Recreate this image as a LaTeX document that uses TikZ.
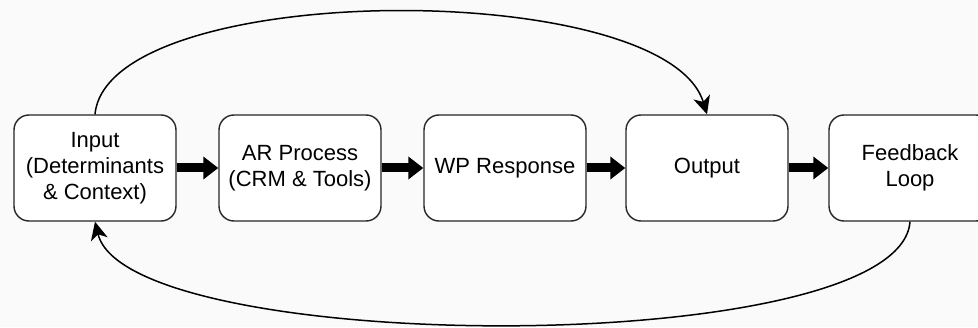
\documentclass[tikz,border=0pt]{standalone}
\usepackage{fontspec}
\setmainfont{Liberation Sans}
\usetikzlibrary{arrows.meta}
\definecolor{bgcol}{HTML}{FAFAFA}
\tikzset{
  stagebox/.style={draw=black!85, line width=1.4pt, rounded corners=15pt, fill=white,
    minimum width=162pt, minimum height=106pt, align=center, inner sep=0pt,
    font=\fontsize{22pt}{26pt}\selectfont},
  flowarrow/.style={line width=9pt, -{Triangle[length=15pt,width=22pt]}},
  looparrow/.style={line width=1.5pt, -{Stealth[length=18pt,width=17pt,inset=5pt]}}
}
\begin{document}
\begin{tikzpicture}[x=1pt,y=1pt]
  \fill[bgcol] (0,0) rectangle (978,327);
  \useasboundingbox (0,0) rectangle (978,327);
  \begin{scope}
    \clip (0,0) rectangle (978,327);
    \node[stagebox] (in)  at (95,159)  {Input\\(Determinants\\\& Context)};
    \node[stagebox] (ar)  at (300,159) {AR Process\\(CRM \& Tools)};
    \node[stagebox] (wp)  at (505,159) {WP Response};
    \node[stagebox] (out) at (707,159) {Output};
    \node[stagebox] (fb)  at (910,159) {Feedback\\Loop};
  \end{scope}
  % main chain
  \draw[flowarrow] (in.east)  -- (ar.west);
  \draw[flowarrow] (ar.east)  -- (wp.west);
  \draw[flowarrow] (wp.east)  -- (out.west);
  \draw[flowarrow] (out.east) -- (fb.west);
  % bypass over the top and return loop underneath
  \draw[looparrow] (in.north) .. controls (108,348) and (665,350) .. (out.north);
  \draw[looparrow] (fb.south) .. controls (900,-33) and (128,-30) .. (in.south);
\end{tikzpicture}
\end{document}
